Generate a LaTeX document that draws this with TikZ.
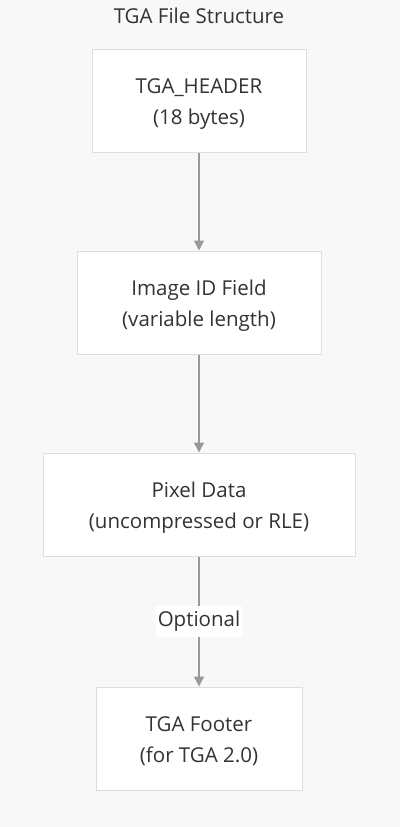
\documentclass[tikz,border=0pt]{standalone}
\usepackage{fontspec}
\setmainfont{Open Sans}
\usetikzlibrary{arrows.meta}
\definecolor{bgcol}{HTML}{F8F8F8}
\definecolor{boxline}{HTML}{DDDDDD}
\definecolor{arrowcol}{HTML}{999999}
\definecolor{textcol}{HTML}{333333}
\tikzset{
  block/.style={draw=boxline, line width=1pt, fill=white, text=textcol,
    align=center, inner sep=0pt, text height=52pt, text depth=5pt,
    font=\fontsize{20.5}{31}\selectfont},
  link/.style={draw=arrowcol, line width=1.5pt, -{Triangle[length=10pt, width=10pt]}},
  linklabel/.style={fill=white, text=textcol, inner xsep=2pt, inner ysep=5pt, font=\fontsize{20.5}{24}\selectfont}
}
\begin{document}
\begin{tikzpicture}[x=1pt, y=-1pt]
  %tikz  TGA file layout
  \fill[bgcol] (0,0) rectangle (400,827);
  \useasboundingbox (0,0) rectangle (400,827);

  \node[text=textcol, font=\fontsize{20.5}{24}\selectfont] (title) at (199,16) {TGA File Structure};

  \node[block, minimum width=214pt, minimum height=103pt] (header) at (199,100.5) {TGA\_HEADER\\(18 bytes)};
  \node[block, minimum width=244pt, minimum height=103pt] (imageid) at (199,302.5) {Image ID Field\\(variable length)};
  \node[block, minimum width=312pt, minimum height=103pt] (pixels) at (199,504.5) {Pixel Data\\(uncompressed or RLE)};
  \node[block, minimum width=206pt, minimum height=103pt] (footer) at (199,738.5) {TGA Footer\\(for TGA 2.0)};

  \draw[link] (header) -- (imageid);
  \draw[link] (imageid) -- (pixels);
  \draw[link] (pixels) -- node[linklabel] {Optional} (footer);

\end{tikzpicture}
\end{document}
